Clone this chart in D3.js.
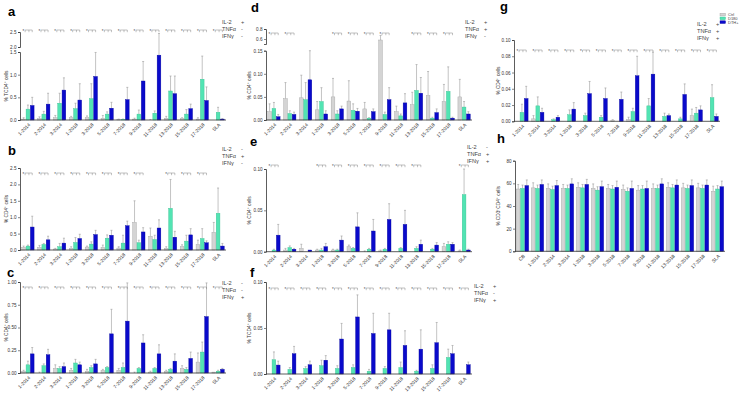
<!DOCTYPE html>
<html><head><meta charset="utf-8">
<script src="https://cdn.jsdelivr.net/npm/d3@7/dist/d3.min.js"></script>
<style>body{margin:0;background:#fff;}svg{font-family:Arial,"Liberation Sans",sans-serif;}</style>
</head><body><svg id="c" width="745" height="393"></svg>
<script>
// ---------- DATA ----------
const cats = ["1-2014","2-2014","3-2014","1-2018","3-2018","5-2018","7-2018","9-2018","11-2018","13-2018","15-2018","17-2018","SLA"];
const catsH = ["CB","1-2014","2-2014","3-2014","1-2018","3-2018","5-2018","7-2018","9-2018","11-2018","13-2018","15-2018","17-2018","SLA"];
const seriesNames = ["Ctrl","D180","DTH+"];

// panel a: IL-2+ TNFa- IFNg-
const aCtrl   = [0.02,0.03,0.05,0.05,0.05,0.04,0.01,0.02,0.00,0.04,0.03,0.02,0.00];
const aCtrlHi = [0.05,0.07,0.10,0.08,0.09,0.10,0.02,0.04,0.01,0.08,0.05,0.05,0.00];
const aD180   = [0.24,0.13,0.37,0.25,0.47,0.13,0.01,0.13,0.15,0.64,0.13,0.90,0.17];
const aD180Hi = [0.33,0.19,0.59,0.37,0.80,0.18,0.02,0.22,0.20,0.97,0.23,1.41,0.28];
const aDth    = [0.32,0.35,0.66,0.44,0.96,0.26,0.45,0.86,1.43,0.58,0.25,0.43,0.02];
const aDthHi  = [0.50,0.59,0.93,0.80,1.49,0.39,0.72,1.29,2.45,0.97,0.35,0.73,0.03];

// panel b: IL-2- TNFa+ IFNg-
const bCtrl   = [0.08,0.08,0.03,0.05,0.09,0.08,0.06,0.84,0.42,0.05,0.10,0.17,0.54];
const bCtrlHi = [0.12,0.14,0.05,0.10,0.12,0.15,0.10,1.50,0.67,0.10,0.16,0.30,0.84];
const bD180   = [0.12,0.17,0.10,0.23,0.18,0.36,0.21,0.22,0.32,1.27,0.27,0.35,1.12];
const bD180Hi = [0.15,0.20,0.20,0.38,0.25,0.46,0.45,0.30,0.45,2.15,0.45,0.65,1.89];
const bDth    = [0.70,0.31,0.21,0.35,0.47,0.45,0.74,0.55,0.67,0.39,0.46,0.22,0.12];
const bDthHi  = [1.03,0.42,0.36,0.48,0.60,0.60,0.88,0.68,0.92,0.57,0.65,0.28,0.20];

// panel c: IL-2- TNFa- IFNg+
const cCtrl   = [0.02,0.00,0.05,0.03,0.02,0.03,0.03,0.00,0.01,0.02,0.05,0.12,0.01];
const cCtrlHi = [0.03,0.01,0.09,0.05,0.04,0.04,0.05,0.01,0.02,0.03,0.08,0.22,0.01];
const cD180   = [0.09,0.08,0.05,0.11,0.06,0.06,0.06,0.05,0.05,0.04,0.04,0.23,0.02];
const cD180Hi = [0.13,0.10,0.07,0.15,0.08,0.07,0.11,0.06,0.06,0.05,0.06,0.34,0.03];
const cDth    = [0.21,0.20,0.07,0.09,0.10,0.43,0.57,0.33,0.21,0.13,0.16,0.62,0.04];
const cDthHi  = [0.28,0.26,0.11,0.12,0.15,0.70,0.99,0.42,0.31,0.21,0.23,0.99,0.05];

// panel d: IL-2+ TNFa+ IFNg-
const dCtrl   = [0.018,0.046,0.048,0.022,0.050,0.041,0.024,0.580,0.018,0.033,0.053,0.040,0.050];
const dCtrlHi = [0.035,0.081,0.097,0.040,0.090,0.085,0.038,0.670,0.030,0.060,0.105,0.077,0.088];
const dD180   = [0.025,0.014,0.044,0.040,0.013,0.021,0.004,0.012,0.009,0.064,0.004,0.062,0.028];
const dD180Hi = [0.038,0.020,0.081,0.070,0.020,0.035,0.005,0.017,0.013,0.120,0.006,0.115,0.040];
const dDth    = [0.007,0.012,0.087,0.013,0.024,0.019,0.018,0.044,0.037,0.058,0.016,0.004,0.013];
const dDthHi  = [0.012,0.017,0.150,0.020,0.030,0.025,0.024,0.070,0.057,0.092,0.024,0.006,0.018];

// panel e: IL-2- TNFa+ IFNg+
const eCtrl   = [0.000,0.002,0.004,0.002,0.002,0.006,0.000,0.001,0.000,0.000,0.000,0.006,0.001];
const eCtrlHi = [0.000,0.004,0.009,0.003,0.003,0.008,0.001,0.002,0.000,0.000,0.000,0.010,0.002];
const eD180   = [0.002,0.005,0.000,0.002,0.002,0.004,0.003,0.003,0.004,0.004,0.003,0.009,0.069];
const eD180Hi = [0.003,0.007,0.000,0.004,0.003,0.005,0.004,0.004,0.005,0.006,0.004,0.012,0.100];
const eDth    = [0.020,0.003,0.002,0.006,0.014,0.030,0.025,0.039,0.033,0.009,0.008,0.009,0.002];
const eDthHi  = [0.033,0.004,0.002,0.010,0.019,0.047,0.039,0.058,0.050,0.014,0.011,0.011,0.003];

// panel f: IL-2+ TNFa- IFNg+
const fCtrl   = [0,0,0,0,0,0,0,0,0,0,0,0,0];
const fCtrlHi = [0,0,0,0,0,0,0,0,0,0,0,0,0];
const fD180   = [0.0155,0.005,0.006,0.009,0.006,0.007,0.003,0.006,0.007,0.003,0.006,0.018,0.000];
const fD180Hi = [0.024,0.007,0.008,0.015,0.009,0.010,0.005,0.008,0.013,0.004,0.010,0.027,0.000];
const fDth    = [0.0097,0.022,0.010,0.015,0.038,0.062,0.044,0.048,0.031,0.027,0.034,0.022,0.010];
const fDthHi  = [0.014,0.030,0.014,0.020,0.055,0.086,0.066,0.066,0.047,0.048,0.056,0.031,0.013];

// panel g: IL-2+ TNFa+ IFNg+
const gCtrl   = [0.000,0.003,0.000,0.000,0.000,0.000,0.001,0.002,0.000,0.000,0.000,0.007,0.000];
const gCtrlHi = [0.000,0.007,0.000,0.000,0.000,0.000,0.002,0.005,0.000,0.000,0.000,0.015,0.000];
const gD180   = [0.011,0.019,0.002,0.008,0.007,0.005,0.000,0.012,0.019,0.006,0.003,0.010,0.029];
const gD180Hi = [0.021,0.030,0.003,0.014,0.010,0.007,0.000,0.016,0.028,0.010,0.005,0.017,0.045];
const gDth    = [0.028,0.011,0.005,0.015,0.034,0.028,0.027,0.056,0.058,0.007,0.033,0.014,0.006];
const gDthHi  = [0.043,0.016,0.007,0.023,0.049,0.041,0.036,0.080,0.085,0.009,0.046,0.019,0.009];

// panel h: % CD3+CD4+
const hCtrl   = [55,56,55.5,55.5,56.5,55.5,55.5,54.5,54,55.5,56.5,56,56,53];
const hCtrlHi = [59,60.5,59.5,59,60.5,59.5,59,58.5,58,59.5,60.5,60,60,57.5];
const hD180   = [55.5,55.5,54.5,55.5,56,54,55,53,55,55.5,56,55.5,55.5,55];
const hD180Hi = [58.5,58.5,57.5,58.5,59,57,58,56,58,58.5,59,58.5,58.5,58];
const hDth    = [58,59,58,59.5,59,57,56.5,55.5,55.5,59.5,58.5,58,58.5,57];
const hDthHi  = [63,63,62.5,64,63.5,62,62,62,62,64,63,63,63,62];

// significance marks (category indices) per panel
const aSig = [0,1,2,3,4,5,6,7,8,9,10,11,12];
const bSig = [0,1,2,3,4,5,6,7,9,10,11];
const cSig = [0,1,2,3,4,5,6,7,8,9,10,11,12];
const dSig = [0,1,4,5,6,7,9,10,11];
const eSig = [0,3,4,5,6,7,8,9,12];
const fSig = [0,1,2,3,4,5,6,7,8,9,10,11,12];
const gSig = [0,1,2,3,4,5,6,7,8,9,10,11,12];

const aMarkers = ["+","-","-"];
const bMarkers = ["-","+","-"];
const cMarkers = ["-","-","+"];
const dMarkers = ["+","+","-"];
const eMarkers = ["-","+","+"];
const fMarkers = ["+","-","+"];
const gMarkers = ["+","+","+"];

// ---------- STYLE / LAYOUT ----------
const fills   = ["#d4d4d4","#52e4b3","#0a0acb"];
const strokes = ["#a0a0a0","#38bf91","#06069e"];
const svg = d3.select("#c");

const panels = [
 {L:"a",lx:8,ly:16,x0:20,x1:226,y0:120,yt:52,dom:[0,1.5],ticks:[0,0.5,1.0,1.5],fmt:".1f",
  brk:{dom:[2.0,2.5],r:[47,32],ticks:[2.0,2.5]},
  title:"% TCD4\u207A cells",tx:8,sigY:30,legX:222,legY:24,mk:aMarkers,sig:aSig,
  v:[aCtrl,aD180,aDth],hi:[aCtrlHi,aD180Hi,aDthHi]},
 {L:"b",lx:8,ly:155,x0:20,x1:226,y0:250,yt:168,dom:[0,2.5],ticks:[0,0.5,1.0,1.5,2.0,2.5],fmt:".1f",
  title:"% CD4\u207A cells",tx:8,sigY:173,legX:222,legY:151,mk:bMarkers,sig:bSig,
  v:[bCtrl,bD180,bDth],hi:[bCtrlHi,bD180Hi,bDthHi]},
 {L:"c",lx:7,ly:277,x0:20,x1:226,y0:373,yt:282,dom:[0,1.0],ticks:[0,0.25,0.5,0.75,1.0],fmt:".2f",
  title:"% CD4\u207A cells",tx:8,sigY:287,legX:222,legY:285,mk:cMarkers,sig:cSig,
  v:[cCtrl,cD180,cDth],hi:[cCtrlHi,cD180Hi,cDthHi]},
 {L:"d",lx:251,ly:12,x0:266,x1:472,y0:120,yt:50.7,dom:[0,0.15],ticks:[0,0.05,0.10,0.15],fmt:".2f",
  brk:{dom:[0.5,0.8],r:[44,29],ticks:[0.6,0.8]},
  title:"% CD4\u207A cells",tx:251,sigY:33,legX:465,legY:24,mk:dMarkers,sig:dSig,
  v:[dCtrl,dD180,dDth],hi:[dCtrlHi,dD180Hi,dDthHi]},
 {L:"e",lx:250,ly:146,x0:266,x1:472,y0:251.7,yt:169,dom:[0,0.10],ticks:[0,0.05,0.10],fmt:".2f",
  title:"% CD4\u207A cells",tx:251,sigY:165,legX:467,legY:149,mk:eMarkers,sig:eSig,
  v:[eCtrl,eD180,eDth],hi:[eCtrlHi,eD180Hi,eDthHi]},
 {L:"f",lx:250,ly:277,x0:266,x1:472,y0:374,yt:282,dom:[0,0.10],ticks:[0,0.05,0.10],fmt:".2f",
  title:"% TCD4\u207A cells",tx:251,sigY:288,legX:474,legY:288,mk:fMarkers,sig:fSig,
  v:[fCtrl,fD180,fDth],hi:[fCtrlHi,fD180Hi,fDthHi]},
 {L:"g",lx:500,ly:11,x0:514,x1:720,y0:121.3,yt:40,dom:[0,0.10],ticks:[0,0.02,0.04,0.06,0.08,0.10],fmt:".2f",
  title:"% CD4\u207A cells",tx:500,sigY:50,legX:697,legY:26,mk:gMarkers,sig:gSig,
  v:[gCtrl,gD180,gDth],hi:[gCtrlHi,gD180Hi,gDthHi],legend:true},
 {L:"h",lx:497,ly:143,x0:515,x1:725,y0:251.3,yt:160.7,dom:[0,80],ticks:[0,20,40,60,80],fmt:"d",
  title:"% CD3\u207ACD4\u207A cells",tx:500,cats:catsH,
  v:[hCtrl,hD180,hDth],hi:[hCtrlHi,hD180Hi,hDthHi]}
];

function drawPanel(p){
  const g = svg.append("g");
  const cs = p.cats || cats;
  const x = d3.scaleBand().domain(cs).range([p.x0,p.x1]);
  const yLow = d3.scaleLinear().domain(p.dom).range([p.y0,p.yt]);
  let yUp = null;
  if(p.brk) yUp = d3.scaleLinear().domain(p.brk.dom).range(p.brk.r);
  const y = v => {
    if(!p.brk || v <= p.dom[1]) return yLow(v);
    if(v >= p.brk.dom[0]) return yUp(v);
    const t = (v-p.dom[1])/(p.brk.dom[0]-p.dom[1]);
    return p.yt + t*(p.brk.r[0]-p.yt);
  };
  const bw = 3.7, sp = 4.3;
  const cx = (i,s) => x(cs[i]) + x.bandwidth()/2 + (s-1)*sp;

  // error bars
  p.v.forEach((arr,s)=>{
    arr.forEach((val,i)=>{
      const hi = p.hi[s][i];
      if(hi > val){
        const xx = cx(i,s);
        g.append("line").attr("x1",xx).attr("x2",xx).attr("y1",y(val)).attr("y2",y(hi))
          .attr("stroke","#9a9a9a").attr("stroke-width",0.6);
        g.append("line").attr("x1",xx-1).attr("x2",xx+1).attr("y1",y(hi)).attr("y2",y(hi))
          .attr("stroke","#9a9a9a").attr("stroke-width",0.6);
      }
    });
  });
  // bars
  p.v.forEach((arr,s)=>{
    g.selectAll(null).data(arr).join("rect")
      .attr("x",(d,i)=>cx(i,s)-bw/2).attr("width",bw)
      .attr("y",d=>y(d)).attr("height",d=>Math.max(0,p.y0-y(d)))
      .attr("fill",fills[s]).attr("stroke",strokes[s]).attr("stroke-width",0.4);
  });

  // y axis
  g.append("g").attr("transform",`translate(${p.x0},0)`)
    .call(d3.axisLeft(yLow).tickValues(p.ticks).tickFormat(d3.format(p.fmt)).tickSize(2).tickPadding(1.5));
  if(p.brk){
    g.append("g").attr("transform",`translate(${p.x0},0)`)
     .call(d3.axisLeft(yUp).tickValues(p.brk.ticks).tickFormat(d3.format(".1f")).tickSize(2).tickPadding(1.5));
  }
  g.selectAll(".domain").attr("stroke","#333").attr("stroke-width",0.8);
  g.selectAll(".tick line").attr("stroke","#333").attr("stroke-width",0.6);
  g.selectAll(".tick text").attr("font-size",4.6).attr("fill","#333");
  // x axis line
  g.append("line").attr("x1",p.x0).attr("x2",p.x1).attr("y1",p.y0).attr("y2",p.y0)
    .attr("stroke","#333").attr("stroke-width",0.8);
  // x labels
  cs.forEach(c=>{
    const xx = x(c)+x.bandwidth()/2+1.5, yy = p.y0+4;
    g.append("text").attr("transform",`translate(${xx},${yy}) rotate(-45)`)
      .attr("text-anchor","end").attr("dy","0.35em").attr("font-size",4.8).attr("fill","#333").text(c);
  });
  // y title
  const ym = (p.y0 + p.yt)/2;
  g.append("text").attr("transform",`translate(${p.tx},${ym}) rotate(-90)`)
    .attr("text-anchor","middle").attr("font-size",4.8).attr("fill","#333").text(p.title);
  // panel letter
  svg.append("text").attr("x",p.lx).attr("y",p.ly).attr("font-size",13).attr("font-weight","bold").text(p.L);
  // cytokine legend
  if(p.mk){
    const names = ["IL-2","TNF\u03B1","IFN\u03B3"];
    names.forEach((n,k)=>{
      g.append("text").attr("x",p.legX).attr("y",p.legY+k*6.8).attr("font-size",5.6).attr("fill","#444").text(n);
      g.append("text").attr("x",p.legX+19).attr("y",p.legY+k*6.8).attr("font-size",5.6).attr("fill","#444").text(p.mk[k]);
    });
  }
  // significance marks
  if(p.sig){
    p.sig.forEach(i=>{
      const x0 = cx(i,0), x1 = cx(i,1), x2 = cx(i,2);
      g.append("text").attr("x",x0-1).attr("y",p.sigY+2.5).attr("font-size",4.5).attr("fill","#555").text("*");
      g.append("path").attr("d",`M${x0+1.5},${p.sigY} H${x2} v2.2 M${x1+1},${p.sigY} v2.2 M${x0+1.5},${p.sigY} v2.2`)
        .attr("fill","none").attr("stroke","#777").attr("stroke-width",0.45);
    });
  }
  // series legend
  if(p.legend){
    seriesNames.forEach((n,s)=>{
      g.append("rect").attr("x",720).attr("y",13.2+s*3.8).attr("width",5.5).attr("height",2.7)
        .attr("fill",fills[s]).attr("stroke",strokes[s]).attr("stroke-width",0.4);
      g.append("text").attr("x",728).attr("y",15.9+s*3.8).attr("font-size",4).attr("fill","#444").text(n);
    });
  }
}
panels.forEach(drawPanel);
</script></body></html>
